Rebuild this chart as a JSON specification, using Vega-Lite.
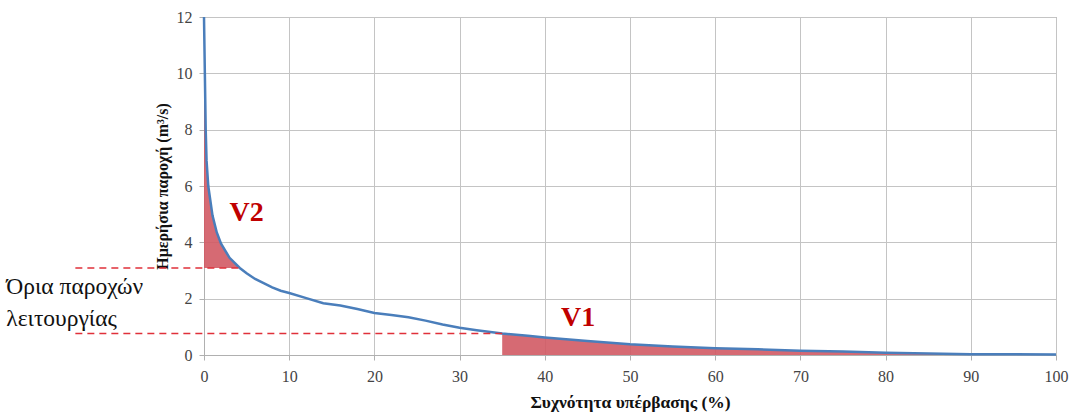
{
  "$schema": "https://vega.github.io/schema/vega-lite/v6.json",
  "width": 852,
  "height": 338,
  "autosize": {"type": "none"},
  "padding": {"left": 204, "top": 17, "right": 15, "bottom": 59},
  "background": "white",
  "config": {
    "view": {"stroke": "#8c8c8c", "strokeWidth": 1},
    "axis": {
      "labelFont": "Liberation Serif",
      "labelFontSize": 16,
      "labelColor": "#444444",
      "labelFlush": false,
      "titleFont": "Liberation Serif",
      "titleFontWeight": "bold",
      "titleColor": "#111111",
      "gridColor": "#c4c4c4",
      "gridWidth": 1,
      "domainColor": "#b0b0b0",
      "tickColor": "#b0b0b0",
      "tickSize": 5
    }
  },
  "datasets": {
    "curve": [
      {"p": 0, "q": 12}, {"p": 0.1, "q": 10.0}, {"p": 0.2, "q": 8.0}, {"p": 0.3, "q": 6.9},
      {"p": 0.5, "q": 6.0}, {"p": 1, "q": 4.95}, {"p": 1.5, "q": 4.35}, {"p": 2, "q": 3.95},
      {"p": 3, "q": 3.45}, {"p": 4.2, "q": 3.09}, {"p": 5, "q": 2.9}, {"p": 6, "q": 2.7},
      {"p": 7, "q": 2.55}, {"p": 8, "q": 2.4}, {"p": 9, "q": 2.28}, {"p": 10, "q": 2.2},
      {"p": 12, "q": 2.02}, {"p": 14, "q": 1.84}, {"p": 16, "q": 1.76}, {"p": 18, "q": 1.63},
      {"p": 20, "q": 1.49}, {"p": 22, "q": 1.42}, {"p": 24, "q": 1.34}, {"p": 26, "q": 1.22},
      {"p": 28, "q": 1.08}, {"p": 30, "q": 0.97}, {"p": 32, "q": 0.88}, {"p": 35, "q": 0.76},
      {"p": 38, "q": 0.68}, {"p": 40, "q": 0.62}, {"p": 45, "q": 0.5}, {"p": 50, "q": 0.38},
      {"p": 55, "q": 0.3}, {"p": 60, "q": 0.24}, {"p": 65, "q": 0.2}, {"p": 70, "q": 0.15},
      {"p": 75, "q": 0.12}, {"p": 80, "q": 0.08}, {"p": 85, "q": 0.05}, {"p": 90, "q": 0.03},
      {"p": 95, "q": 0.025}, {"p": 100, "q": 0.02}
    ],
    "limits": [
      {"x1": -15.1, "x2": 4.2, "y": 3.09},
      {"x1": -15.1, "x2": 35, "y": 0.76}
    ],
    "labels": [
      {"x": 3.0, "y": 5.05, "t": "V2"},
      {"x": 41.9, "y": 1.3, "t": "V1"}
    ],
    "note": [
      {"x": -23.2, "y": 2.4, "t": "Όρια παροχών"},
      {"x": -23.2, "y": 1.28, "t": "λειτουργίας"}
    ]
  },
  "layer": [
    {
      "data": {"name": "curve"},
      "transform": [{"filter": "datum.p <= 4.2"}],
      "mark": {"type": "area", "color": "#d25a64", "opacity": 0.9},
      "encoding": {
        "x": {"field": "p", "type": "quantitative", "scale": {"domain": [0, 100]},
          "axis": {"values": [0,10,20,30,40,50,60,70,80,90,100], "title": "Συχνότητα υπέρβασης (%)", "titleFontSize": 17.5, "labelPadding": 8, "titlePadding": 9}},
        "y": {"field": "q", "type": "quantitative", "scale": {"domain": [0, 12]},
          "axis": {"values": [0,2,4,6,8,10,12], "title": "Ημερήσια παροχή (m³/s)", "titleFontSize": 16, "labelPadding": 7, "titlePadding": 6}},
        "y2": {"datum": 3.09}
      }
    },
    {
      "data": {"name": "curve"},
      "transform": [{"filter": "datum.p >= 35"}],
      "mark": {"type": "area", "color": "#d25a64", "opacity": 0.9},
      "encoding": {
        "x": {"field": "p", "type": "quantitative"},
        "y": {"field": "q", "type": "quantitative"},
        "y2": {"datum": 0}
      }
    },
    {
      "data": {"name": "curve"},
      "mark": {"type": "line", "color": "#4a7ebb", "strokeWidth": 2.5},
      "encoding": {
        "x": {"field": "p", "type": "quantitative"},
        "y": {"field": "q", "type": "quantitative"}
      }
    },
    {
      "data": {"name": "limits"},
      "mark": {"type": "rule", "color": "#e0303a", "strokeWidth": 1.5, "strokeDash": [7, 5], "clip": false},
      "encoding": {
        "x": {"field": "x1", "type": "quantitative"},
        "x2": {"field": "x2"},
        "y": {"field": "y", "type": "quantitative"}
      }
    },
    {
      "data": {"name": "labels"},
      "mark": {"type": "text", "font": "Liberation Serif", "fontSize": 28, "fontWeight": "bold", "color": "#c00000", "align": "left", "baseline": "middle"},
      "encoding": {
        "x": {"field": "x", "type": "quantitative"},
        "y": {"field": "y", "type": "quantitative"},
        "text": {"field": "t"}
      }
    },
    {
      "data": {"name": "note"},
      "mark": {"type": "text", "font": "Liberation Serif", "fontSize": 23.5, "color": "#111111", "align": "left", "baseline": "middle", "clip": false},
      "encoding": {
        "x": {"field": "x", "type": "quantitative"},
        "y": {"field": "y", "type": "quantitative"},
        "text": {"field": "t"}
      }
    }
  ]
}
